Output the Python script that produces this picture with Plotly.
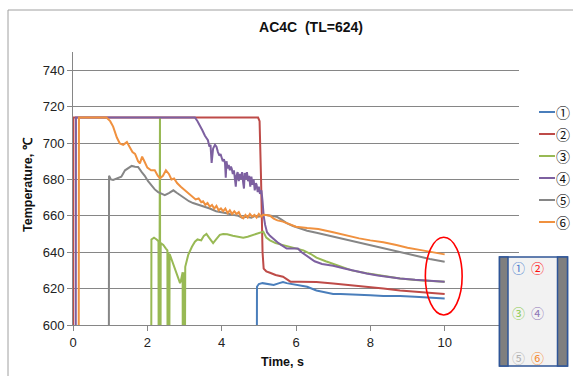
import plotly.graph_objects as go

# ---------------- data ----------------
OFF = 500  # below the visible axis range (sensor not yet reading)

t1 = [0, 4.94, 4.95, 5.0, 5.1, 5.25, 5.4, 5.55, 5.65, 5.75, 5.9, 6.1, 6.3, 6.55, 6.8, 7.0, 7.2, 7.6, 8.0, 8.35, 8.8, 9.2, 9.6, 10.0]
v1 = [OFF, OFF, 621, 622.5, 623, 622.5, 622, 623, 623.6, 623, 622.5, 622, 621, 619, 618, 617, 617, 616.8, 616.3, 616, 616, 615.5, 615, 614.5]

t2 = [0, 0.01, 4.98, 5.02, 5.06, 5.1, 5.13, 5.2, 5.3, 5.45, 5.65, 5.75, 5.85, 6.1, 6.55, 7.0, 7.45, 7.9, 8.35, 8.8, 9.3, 10.0]
v2 = [OFF, 714, 714, 712, 680, 640, 631, 629.5, 628.7, 627.5, 626.5, 625, 623.8, 623.7, 623.6, 622.8, 622, 621, 620, 619, 618, 617]

t3 = [0, 2.1, 2.11, 2.18, 2.25, 2.3, 2.31, 2.32, 2.34, 2.35, 2.36, 2.43, 2.5, 2.54, 2.55, 2.57, 2.58, 2.6,
      2.67, 2.74, 2.82, 2.88, 2.9, 2.92, 2.95, 2.96, 2.98, 3.0, 3.02, 3.1, 3.2, 3.28, 3.35, 3.45, 3.52, 3.59,
      3.66, 3.72, 3.77, 3.85, 3.95, 4.04, 4.15, 4.3, 4.45, 4.58, 4.7, 4.85, 5.0, 5.12, 5.2, 5.3, 5.45, 5.65,
      5.9, 6.2, 6.4, 6.55, 6.8, 7.0, 7.2, 7.5, 7.9, 8.3, 8.8, 9.3, 9.7, 10.0]
v3 = [OFF, OFF, 647, 648, 647, 646, OFF, 714, 714, OFF, 645, 644, 642, 641, OFF, 640, OFF, 639,
      635, 632, 627, 623, 624, 626, 629, OFF, 629, OFF, 632, 638.5, 643, 645.8, 647, 646.5, 649, 650,
      648, 646, 645, 647, 649.5, 650, 649.8, 649, 648.5, 648, 648.5, 649.5, 650.5, 651.3, 648, 646.5, 645, 644,
      642.5, 641, 639, 637, 635, 633.5, 632, 630, 628.4, 627, 625.6, 624.6, 624.1, 623.8]

t4 = [0, 0.07, 0.08, 3.2, 3.28, 3.35, 3.41, 3.48, 3.55, 3.6, 3.63, 3.67, 3.7, 3.73, 3.77, 3.82, 3.86, 3.9,
      3.94, 3.97, 4.0, 4.03, 4.06, 4.09, 4.11, 4.13, 4.16, 4.19, 4.22, 4.25, 4.27, 4.3, 4.33, 4.36, 4.38,
      4.4, 4.43, 4.46, 4.49, 4.52, 4.55, 4.58, 4.6, 4.62, 4.65, 4.68, 4.71, 4.74, 4.77, 4.8, 4.83, 4.86,
      4.89, 4.92, 4.94, 4.97, 5.0, 5.03, 5.07, 5.1, 5.13, 5.17, 5.22, 5.3, 5.4, 5.5, 5.6, 5.75, 5.9,
      6.05, 6.15, 6.3, 6.5, 6.7, 7.0, 7.3, 7.6, 7.9, 8.2, 8.5, 8.8, 9.2, 9.6, 10.0]
v4 = [OFF, OFF, 714, 714, 714, 712, 710, 707, 704, 702, 701.5, 698, 699, 689, 697, 699, 698, 695,
      693, 694, 692, 690, 691, 689, 681, 690, 686, 688, 685, 687, 686, 683, 685, 681, 676,
      682, 684, 679, 683, 680, 684, 678, 675, 683.5, 680, 684, 679, 682, 676, 681.5, 677, 680,
      674, 678, 677, 673, 676, 672, 674, 668, 660, 655, 651, 649, 647, 645.5, 644, 642, 642,
      642, 640, 638, 635, 633.5, 632.5, 631, 629.5, 628.3, 627.2, 626.3, 625.6, 624.8, 624.2, 623.8]

t5 = [0, 0.96, 0.97, 1.02, 1.08, 1.2, 1.3, 1.4, 1.5, 1.58, 1.67, 1.75, 1.85, 1.93, 2.02, 2.1, 2.2,
      2.29, 2.38, 2.47, 2.58, 2.7, 2.8, 2.9, 3.01, 3.12, 3.23, 3.4, 3.55, 3.68, 3.85, 4.0, 4.13, 4.3, 4.45,
      4.55, 4.67, 4.8, 4.9, 5.0, 5.1, 5.2, 5.35, 5.48, 5.6, 5.75, 5.92, 6.1, 6.3, 6.55, 6.8, 7.09, 7.45,
      7.9, 8.35, 8.8, 9.2, 9.6, 10.0]
v5 = [OFF, OFF, 682, 680, 679.7, 680.5, 681.5, 685, 686.5, 687.4, 687, 686.8, 684, 682, 679, 677, 674.5,
      673, 672, 671.4, 672.5, 674, 672.5, 671, 669.6, 668, 667, 666, 665, 664, 662.5, 662, 661.4, 660.5, 660,
      659, 659.5, 659, 660, 659.5, 660.5, 660.4, 660, 659.5, 658, 656, 654.4, 653, 651.8, 650.7, 649.5, 648, 646.5,
      644.5, 642, 640, 638, 636.3, 634.8]

t6 = [0, 0.15, 0.16, 0.9, 1.0, 1.08, 1.18, 1.26, 1.35, 1.45, 1.52, 1.6, 1.67, 1.75, 1.8, 1.86, 1.92, 2.0,
      2.1, 2.2, 2.28, 2.34, 2.42, 2.5, 2.58, 2.65, 2.72, 2.8, 2.9, 2.96, 3.05, 3.15, 3.23, 3.3, 3.38, 3.45,
      3.5, 3.56, 3.62, 3.68, 3.74, 3.8, 3.86, 3.92, 3.98, 4.04, 4.1, 4.16, 4.22, 4.28, 4.34, 4.4, 4.46, 4.52,
      4.58, 4.64, 4.7, 4.76, 4.82, 4.88, 4.94, 5.0, 5.06, 5.12, 5.2, 5.3, 5.4, 5.5, 5.65, 5.8, 6.0, 6.3, 6.6,
      7.0, 7.4, 7.7, 8.0, 8.35, 8.7, 9.0, 9.4, 9.7, 10.0]
v6 = [OFF, OFF, 714, 714, 712, 709, 703, 699.8, 699, 700.5, 698, 695, 694, 690, 688.8, 692.5, 690, 686.5,
      685, 685, 682, 680.6, 682, 685, 683, 680, 680.5, 678, 676, 675, 673, 671.5, 670.5, 669, 669.5, 667.5,
      668, 666, 667, 665, 666, 664, 665.5, 663, 664, 662.5, 664, 661.5, 663, 661, 662.5, 661, 662, 659.5,
      658.6, 660.5, 659, 661, 659.5, 660.5, 659, 661, 659.5, 660.5, 660.4, 660, 658.5, 657.5, 656.8, 655.5, 654, 653.3, 652.8,
      651, 649, 647.6, 646.5, 645.5, 644, 642.5, 641, 640, 638.8]

series_names = ["①", "②", "③", "④", "⑤", "⑥"]
series_t = [t1, t2, t3, t4, t5, t6]
series_v = [v1, v2, v3, v4, v5, v6]
colors = ["#4A7EBB", "#BE4B48", "#98B954", "#7D60A0", "#868686", "#F0913F"]

x_ticks = [0, 2, 4, 6, 8, 10]
y_ticks = [600, 620, 640, 660, 680, 700, 720, 740]

# ---------------- geometry helpers (pixel -> paper) ----------------
W, H = 573, 376
L, R, T, B = 73, 54, 52, 51
PW, PH = W - L - R, H - T - B


def px(p):
    return (p - L) / PW


def py(p):
    return (H - B - p) / PH


fig = go.Figure()
for name, tt, vv, c in zip(series_names, series_t, series_v, colors):
    fig.add_trace(go.Scatter(x=tt, y=vv, mode="lines", name=name,
                             line=dict(color=c, width=2), showlegend=False))

AX = "#868686"
fig.update_layout(
    width=W, height=H,
    margin=dict(l=L, r=R, t=T, b=B, autoexpand=False),
    paper_bgcolor="white", plot_bgcolor="white",
    font=dict(family="Liberation Sans, Arial, sans-serif", size=13, color="#222"),
    title=dict(text="<b>AC4C  (TL=624)</b>", x=311 / W, xanchor="center",
               y=1 - 27 / H, yanchor="middle", font=dict(size=14, color="#111")),
    xaxis=dict(range=[0, 12], tickvals=x_ticks, showgrid=False, zeroline=False,
               showline=True, linecolor=AX, linewidth=1, ticks="outside",
               ticklen=5, tickcolor=AX, tickfont=dict(size=13)),
    yaxis=dict(range=[600, 750], tickvals=y_ticks, showgrid=True, gridcolor=AX,
               gridwidth=1, zeroline=False, showline=True, linecolor=AX,
               linewidth=1, ticks="outside", ticklen=5, tickcolor=AX,
               tickfont=dict(size=13)),
)

shapes = []
annotations = []

# outer chart border
shapes.append(dict(type="rect", xref="paper", yref="paper",
                   x0=px(8), x1=px(600), y0=py(400), y1=py(10),
                   line=dict(color="#A0A0A0", width=1), layer="below"))

# red ellipse around end values
shapes.append(dict(type="circle", xref="x", yref="y", x0=9.48, x1=10.47,
                   y0=605.5, y1=648.2, line=dict(color="#FF0000", width=1.6)))

# manual legend
for i, (name, c) in enumerate(zip(series_names, colors)):
    yy = 112 + 22 * i
    shapes.append(dict(type="line", xref="paper", yref="paper",
                       x0=px(539), x1=px(555), y0=py(yy), y1=py(yy),
                       line=dict(color=c, width=2)))
    annotations.append(dict(text=name, xref="paper", yref="paper", x=px(554),
                            y=py(yy), xanchor="left", yanchor="middle",
                            showarrow=False,
                            font=dict(family="Noto Sans CJK JP", size=14, color="#111")))

# specimen picture (bottom right)
BL = "#2F5597"
shapes.append(dict(type="rect", xref="paper", yref="paper",
                   x0=px(499.5), x1=px(567.5), y0=py(366), y1=py(257),
                   fillcolor="#F2F2F2", line=dict(color=BL, width=1.5)))
shapes.append(dict(type="rect", xref="paper", yref="paper",
                   x0=px(499.5), x1=px(508), y0=py(366), y1=py(257),
                   fillcolor="#7F7F7F", line=dict(color=BL, width=1.5)))
shapes.append(dict(type="rect", xref="paper", yref="paper",
                   x0=px(557.5), x1=px(567.5), y0=py(366), y1=py(257),
                   fillcolor="#7F7F7F", line=dict(color=BL, width=1.5)))
pic_cols = ["#4F7FD0", "#FF1010", "#8CCB50", "#8F78B8", "#B0B0B0", "#F58A30"]
pic_pos = [(518, 267), (537, 267), (518, 312), (537, 312), (518, 357), (537, 357)]
for name, c, (xx, yy) in zip(series_names, pic_cols, pic_pos):
    annotations.append(dict(text=name, xref="paper", yref="paper", x=px(xx), y=py(yy),
                            xanchor="center", yanchor="middle", showarrow=False,
                            font=dict(family="Noto Sans CJK JP", size=13, color=c)))

# axis titles
annotations.append(dict(text="<b>Time, s</b>", xref="paper", yref="paper",
                        x=px(282), y=py(362), xanchor="center", yanchor="middle",
                        showarrow=False, font=dict(size=12.5, color="#111")))
annotations.append(dict(text="<b>Temperature, ℃</b>", xref="paper", yref="paper",
                        x=px(28), y=py(185), xanchor="center", yanchor="middle",
                        textangle=-90, showarrow=False, font=dict(size=12.5, color="#111")))

fig.update_layout(shapes=shapes, annotations=annotations)
fig.write_html("out.html")
